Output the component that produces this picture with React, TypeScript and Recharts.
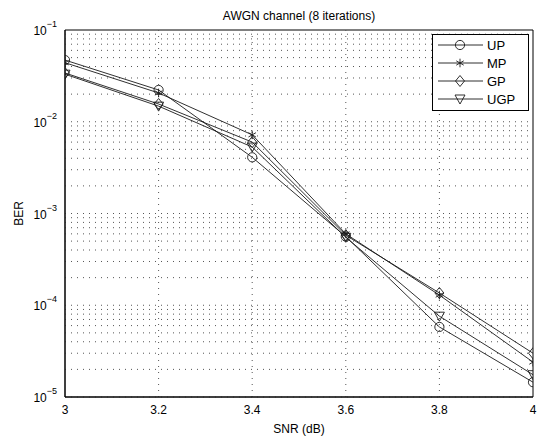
import React from 'react';
import {
  ComposedChart,
  Line,
  XAxis,
  YAxis,
  ReferenceLine,
  ReferenceArea,
  Legend,
  Label,
} from 'recharts';

// ---- data ----
const snr = [3, 3.2, 3.4, 3.6, 3.8, 4];
const berUP = [0.047, 0.0222, 0.0041, 0.00056, 5.8e-5, 1.45e-5];
const berMP = [0.044, 0.0206, 0.0072, 0.0006, 1.29e-4, 2.4e-5];
const berGP = [0.034, 0.0156, 0.006, 0.00058, 1.36e-4, 3.0e-5];
const berUGP = [0.033, 0.0148, 0.0053, 0.00055, 7.6e-5, 1.75e-5];

const xTicks = [3, 3.2, 3.4, 3.6, 3.8, 4];
const yTicks = [1e-5, 1e-4, 1e-3, 1e-2, 1e-1];
const gridX = [3.2, 3.4, 3.6, 3.8];
const gridMantissas = [1, 2, 3, 4, 5, 6, 7, 8, 9];
const gridDecades = [1e-5, 1e-4, 1e-3, 1e-2];

const title = 'AWGN channel (8 iterations)';
const xLabel = 'SNR (dB)';
const yLabel = 'BER';

type Kind = 'circle' | 'star' | 'diamond' | 'triangle';
const seriesDefs: { key: string; name: string; kind: Kind; values: number[] }[] = [
  { key: 'up', name: 'UP', kind: 'circle', values: berUP },
  { key: 'mp', name: 'MP', kind: 'star', values: berMP },
  { key: 'gp', name: 'GP', kind: 'diamond', values: berGP },
  { key: 'ugp', name: 'UGP', kind: 'triangle', values: berUGP },
];

const rows = snr.map((s, i) => {
  const r: Record<string, number> = { snr: s };
  seriesDefs.forEach((d) => {
    r[d.key] = d.values[i];
  });
  return r;
});

const gridY: number[] = [];
gridDecades.forEach((d) => gridMantissas.forEach((m) => gridY.push(m * d)));

const FONT = '"Liberation Sans", Arial, Helvetica, sans-serif';
const LINE = '#1a1a1a';

function Marker({ kind, cx, cy }: { kind: Kind; cx: number; cy: number }) {
  const common = { fill: 'none', stroke: LINE, strokeWidth: 0.9 };
  if (kind === 'circle') return <circle cx={cx} cy={cy} r={4.6} {...common} />;
  if (kind === 'diamond')
    return (
      <polygon
        points={`${cx},${cy - 5.5} ${cx + 4.5},${cy} ${cx},${cy + 5.5} ${cx - 4.5},${cy}`}
        {...common}
      />
    );
  if (kind === 'triangle')
    return (
      <polygon
        points={`${cx - 5},${cy - 4} ${cx + 5},${cy - 4} ${cx},${cy + 5}`}
        {...common}
      />
    );
  const r = 4.3;
  const a = r * Math.cos(Math.PI / 6);
  const b = r * Math.sin(Math.PI / 6);
  return (
    <g {...common}>
      <line x1={cx} y1={cy - r} x2={cx} y2={cy + r} />
      <line x1={cx - a} y1={cy - b} x2={cx + a} y2={cy + b} />
      <line x1={cx - a} y1={cy + b} x2={cx + a} y2={cy - b} />
    </g>
  );
}

const PowTick = (props: any) => {
  const { x, y, payload } = props;
  const exp = Math.round(Math.log10(payload.value));
  return (
    <text x={x} y={y + 5} textAnchor="end" fill="#000" fontSize={12} fontFamily={FONT}>
      <tspan>10</tspan>
      <tspan dy={-8} fontSize={9}>{`−${Math.abs(exp)}`}</tspan>
    </text>
  );
};

const LegendBox = () => (
  <svg width={97} height={77} style={{ display: 'block' }}>
    <rect x={0.5} y={0.5} width={96} height={76} fill="#fff" stroke="#000" strokeWidth={1} />
    {seriesDefs.map((d, i) => {
      const y = 11 + i * 18;
      return (
        <g key={d.key}>
          <line x1={6} y1={y} x2={51} y2={y} stroke={LINE} strokeWidth={0.9} />
          <Marker kind={d.kind} cx={28} cy={y} />
          <text x={55} y={y + 4.5} fontSize={13} fill="#000" fontFamily={FONT}>
            {d.name}
          </text>
        </g>
      );
    })}
  </svg>
);

export default function App() {
  return (
    <div
      style={{
        position: 'absolute',
        left: 0,
        top: 0,
        width: 541,
        height: 441,
        background: '#fff',
        fontFamily: FONT,
      }}
    >
      <ComposedChart
        width={541}
        height={441}
        data={rows}
        margin={{ top: 30, right: 8, bottom: 0, left: 0 }}
      >
        <XAxis
          dataKey="snr"
          type="number"
          domain={[3, 4]}
          ticks={xTicks}
          interval={0}
          height={44}
          tickLine={false}
          axisLine={{ stroke: '#000' }}
          tick={{ fill: '#000', fontSize: 12, fontFamily: FONT }}
          allowDataOverflow
        >
          <Label
            value={xLabel}
            position="insideBottom"
            offset={8}
            fill="#000"
            fontSize={12}
            fontFamily={FONT}
            style={{ fill: '#000' }}
          />
        </XAxis>
        <YAxis
          type="number"
          scale="log"
          domain={[1e-5, 1e-1]}
          ticks={yTicks}
          interval={0}
          width={65}
          tickLine={false}
          axisLine={{ stroke: '#000' }}
          tick={<PowTick />}
          allowDataOverflow
        >
          <Label
            value={yLabel}
            angle={-90}
            position="insideLeft"
            offset={19}
            style={{ textAnchor: 'middle', fill: '#000' }}
            fill="#000"
            fontSize={12}
            fontFamily={FONT}
          />
        </YAxis>

        {gridY.map((v) => (
          <ReferenceLine key={`gy${v}`} y={v} stroke="#555" strokeDasharray="1 5" strokeWidth={1} />
        ))}
        {gridX.map((v) => (
          <ReferenceLine key={`gx${v}`} x={v} stroke="#555" strokeDasharray="1 5" strokeWidth={1} />
        ))}

        <ReferenceArea
          x1={3}
          x2={4}
          y1={1e-5}
          y2={1e-1}
          fill="none"
          fillOpacity={0}
          stroke="#000"
          strokeWidth={1}
          ifOverflow="visible"
          label={{ value: title, position: 'top', offset: 10, fill: '#000', fontSize: 12, fontFamily: FONT }}
        />

        {seriesDefs.map((d) => (
          <Line
            key={d.key}
            dataKey={d.key}
            name={d.name}
            type="linear"
            stroke={LINE}
            strokeWidth={0.9}
            isAnimationActive={false}
            dot={(p: any) => (
              <Marker key={`${d.key}-${p.index}`} kind={d.kind} cx={p.cx} cy={p.cy} />
            )}
            activeDot={false}
          />
        ))}

        <Legend
          layout="vertical"
          align="center"
          verticalAlign="middle"
          wrapperStyle={{ position: 'absolute', left: 432, top: 34, width: 97, height: 77, margin: 0 }}
          content={() => <LegendBox />}
        />
      </ComposedChart>
    </div>
  );
}
